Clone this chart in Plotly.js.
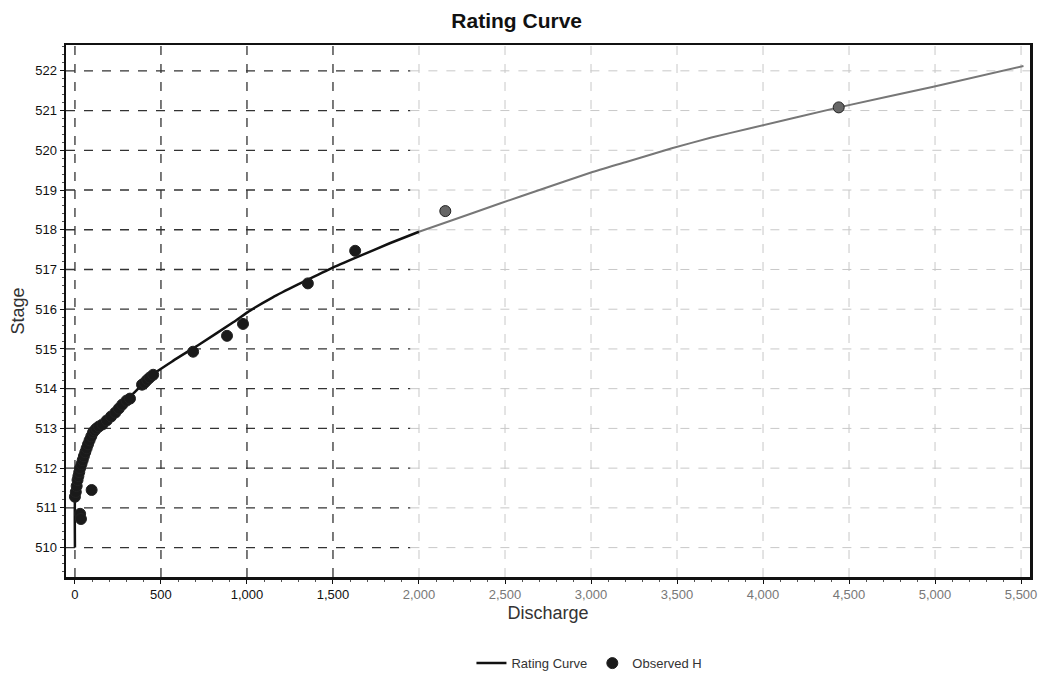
<!DOCTYPE html>
<html>
<head>
<meta charset="utf-8">
<script src="https://cdn.plot.ly/plotly-3.0.1.min.js"></script>
<style>html,body{margin:0;padding:0;background:#fff;}#chart{width:1048px;height:676px;}</style>
</head>
<body>
<div id="chart"></div>
<script>
// Rating curve
const curveQ = [0, 0, 10, 50, 105, 145, 220, 340, 450, 570, 725, 920, 1020, 1150, 1300, 1490, 1650, 1830, 2000, 2180, 2470, 2700, 3000, 3200, 3470, 3700, 3920, 4440, 4990, 5514];
const curveH = [510.0, 511.2, 511.6, 512.3, 512.9, 513.1, 513.4, 513.88, 514.35, 514.7, 515.12, 515.67, 515.97, 516.3, 516.63, 517.03, 517.33, 517.66, 517.95, 518.22, 518.66, 519.0, 519.44, 519.7, 520.05, 520.32, 520.55, 521.08, 521.6, 522.12];

// Observed stage
const obsQ = [0, 30, 35, 97, 5, 10, 15, 20, 25, 30, 38, 45, 52, 60, 68, 76, 85, 95, 105, 115, 125, 140, 160, 185, 210, 235, 255, 275, 300, 320, 390, 405, 420, 435, 455, 687, 884, 977, 1354, 1629, 2153, 4440];
const obsH = [511.28, 510.85, 510.72, 511.45, 511.4, 511.55, 511.7, 511.8, 511.9, 512.0, 512.1, 512.2, 512.3, 512.4, 512.5, 512.6, 512.7, 512.8, 512.9, 512.95, 513.0, 513.05, 513.1, 513.2, 513.3, 513.4, 513.5, 513.6, 513.7, 513.75, 514.1, 514.15, 514.22, 514.28, 514.35, 514.93, 515.33, 515.63, 516.65, 517.47, 518.47, 521.08];

const xTicks = [0, 500, 1000, 1500, 2000, 2500, 3000, 3500, 4000, 4500, 5000, 5500];
const yTicks = [510, 511, 512, 513, 514, 515, 516, 517, 518, 519, 520, 521, 522];

const split = 2000;
const xr = [-52, 5552], yr = [509.26, 522.65];

// split curve into dark (scan) and light parts
const darkQ = [], darkH = [], lightQ = [], lightH = [];
curveQ.forEach((q, i) => {
  if (q <= split) { darkQ.push(q); darkH.push(curveH[i]); }
  if (q >= split) { lightQ.push(q); lightH.push(curveH[i]); }
});

const fmt = v => v.toLocaleString('en-US');
const xTickText = xTicks.map(v => v < split ? fmt(v) : '<span style="color:#777">' + fmt(v) + '</span>');

const shapes = [];
xTicks.forEach(v => {
  const dark = v < split;
  shapes.push({type:'line', xref:'x', yref:'paper', x0:v, x1:v, y0:0, y1:1,
    line:{color: dark ? '#333' : '#c8c8c8', width: dark ? 1.3 : 1, dash:'dash'}, layer:'below'});
});
yTicks.forEach(v => {
  shapes.push({type:'line', xref:'x', yref:'y', x0:xr[0], x1:1950, y0:v, y1:v,
    line:{color:'#333', width:1.3, dash:'dash'}, layer:'below'});
  shapes.push({type:'line', xref:'x', yref:'y', x0:1950, x1:xr[1], y0:v, y1:v,
    line:{color:'#c8c8c8', width:1, dash:'dash'}, layer:'below'});
});

const traces = [
  {x: darkQ, y: darkH, mode:'lines', name:'Rating Curve', legendgroup:'rc',
   line:{color:'#111', width:2.5, shape:'spline', smoothing:0.5}},
  {x: lightQ, y: lightH, mode:'lines', name:'Rating Curve', legendgroup:'rc', showlegend:false,
   line:{color:'#777', width:2, shape:'spline', smoothing:0.5}},
  {x: obsQ, y: obsH, mode:'markers', name:'Observed H',
   marker:{size:11, color: obsQ.map(q => q > split ? '#666' : '#1a1a1a'),
           line:{color:'#222', width:1}}}
];

const layout = {
  width:1048, height:676,
  margin:{l:66, r:18, t:45, b:99, autoexpand:false},
  paper_bgcolor:'#fff', plot_bgcolor:'#fff',
  font:{family:'"Liberation Sans", Arial, sans-serif', color:'#111', size:13},
  title:{text:'<b>Rating Curve</b>', x:0.493, xref:'container', y:0.97, yanchor:'middle',
         font:{size:21, color:'#111', family:'"Liberation Sans", Arial, sans-serif'}},
  xaxis:{range:xr, tickvals:xTicks, ticktext:xTickText, showgrid:false, zeroline:false, automargin:false,
         showline:true, mirror:true, linecolor:'#111', linewidth:2.5,
         ticks:'outside', ticklen:4, tickcolor:'#111',
         minor:{ticks:'outside', ticklen:2, dtick:100, tickcolor:'#555'},
         tickfont:{size:13},
         title:{text:'Discharge', font:{size:18, color:'#333'}, standoff:6}},
  yaxis:{range:yr, tickvals:yTicks, showgrid:false, zeroline:false, automargin:false,
         showline:true, mirror:true, linecolor:'#111', linewidth:2.5,
         ticks:'outside', ticklen:4, tickcolor:'#111',
         minor:{ticks:'outside', ticklen:2, dtick:0.2, tickcolor:'#555'},
         tickfont:{size:13},
         title:{text:'Stage', font:{size:18, color:'#333'}, standoff:6}},
  shapes: shapes,
  showlegend:true,
  legend:{orientation:'h', x:0.543, xanchor:'center', yref:'container', y:0.019, yanchor:'middle',
          font:{size:13, color:'#333'}, itemwidth:30, tracegroupgap:0},
};

Plotly.newPlot('chart', traces, layout, {displayModeBar:false, staticPlot:true});
</script>
</body>
</html>
